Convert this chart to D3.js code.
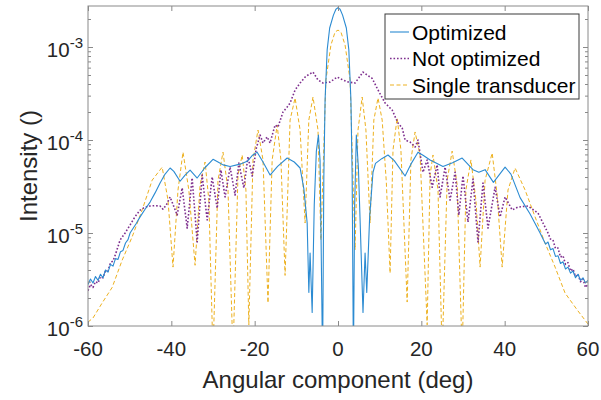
<!DOCTYPE html>
<html lang="en">
  <head>
    <meta charset="utf-8">
    <title>Intensity vs Angular Component</title>
    <script src="https://cdn.jsdelivr.net/npm/d3@7"></script>
    <style>
      body { margin: 0; background: #fff; }
      svg { display: block; font-family: "Liberation Sans", Arial, Helvetica, sans-serif; }
    </style>
  </head>
  <body>
    <script type="text/javascript">
      // values (angle in deg, intensity)
      var optAngle = [-60.0, -59.4, -58.8, -58.2, -57.6, -57.0, -56.4, -55.8, -55.2, -54.6, -54.0, -53.4, -52.8, -52.2, -51.6, -51.0, -50.4,
        -49.9, -48.5, -47.5, -46.3, -45.1, -43.9, -42.7, -41.5, -40.3, -39.4, -37.9, -36.7, -35.5, -33.8, -32.0, -30.0, -28.8, -27.6,
        -25.9, -23.5, -21.8, -20.6, -19.4, -18.0, -16.3, -14.5, -12.2, -10.5, -9.1, -8.2, -7.4, -7.0, -6.7, -6.2, -5.7, -5.2, -4.7,
        -4.3, -4.0, -3.7, -3.4, -3.1, -2.6, -2.0, -1.1, -0.5, 0.0, 0.5, 1.1, 2.0, 2.6, 3.1, 3.4, 3.7, 4.0, 4.4, 4.9, 5.4, 6.0, 6.5,
        6.9, 7.6, 8.4, 9.0, 10.5, 12.0, 13.5, 16.1, 17.5, 19.2, 20.5, 22.1, 25.2, 27.5, 29.8, 32.4, 33.8, 35.3, 37.3, 40.1, 41.5,
        43.7, 46.1, 48.5, 49.8, 50.4, 51.0, 51.6, 52.2, 52.8, 53.4, 54.0, 54.6, 55.2, 55.8, 56.4, 57.0, 57.6, 58.2, 58.8, 59.4, 60.0];
      var optValue = [2.8e-6, 3.2e-6, 2.9e-6, 3.4e-6, 3.1e-6, 3.6e-6, 3.3e-6, 4.0e-6, 3.8e-6, 4.6e-6, 4.4e-6, 5.3e-6, 5.2e-6, 6.3e-6, 6.5e-6, 7.8e-6, 8.5e-6,
        1.0e-5, 1.25e-5, 1.49e-5, 1.8e-5, 2.15e-5, 2.7e-5, 3.45e-5, 4.3e-5, 5.0e-5, 4.6e-5, 3.6e-5, 4.2e-5, 4.75e-5, 3.9e-5, 5.0e-5, 6.2e-5, 5.8e-5, 5.4e-5,
        5.2e-5, 5.5e-5, 5.9e-5, 6.8e-5, 7.4e-5, 5.8e-5, 4.2e-5, 5.2e-5, 6.4e-5, 5.8e-5, 5.0e-5, 3.0e-5, 1.28e-5, 2.3e-6, 6.1e-6, 1.4e-6, 2.0e-5, 7.5e-5, 1.13e-4,
        6.0e-5, 5e-6, 4e-7, 4e-5, 2.7e-4, 9.3e-4, 1.6e-3, 2.2e-3, 2.55e-3, 2.65e-3, 2.55e-3, 2.2e-3, 1.6e-3, 9.3e-4, 2.7e-4, 4e-5, 4e-7, 2e-5, 1.13e-4, 5e-5, 1e-5, 1.4e-6, 6.1e-6,
        2.3e-6, 1.5e-5, 4.5e-5, 5.6e-5, 6.3e-5, 6.9e-5, 6.0e-5, 4.1e-5, 5.5e-5, 7.4e-5, 6.8e-5, 6.1e-5, 5.2e-5, 5.7e-5, 6.4e-5, 4.8e-5, 4.5e-5, 4.8e-5, 3.5e-5, 5.1e-5, 4.3e-5,
        2.4e-5, 1.6e-5, 1.0e-5, 7.6e-6, 8.0e-6, 6.6e-6, 6.8e-6, 5.6e-6, 5.7e-6, 4.7e-6, 4.9e-6, 4.1e-6, 4.3e-6, 3.7e-6, 3.9e-6, 3.3e-6, 3.6e-6, 3.1e-6, 3.3e-6, 2.9e-6, 3.1e-6];

      var notOptAngle = [-60.0, -59.4, -58.8, -58.2, -57.6, -57.0, -56.4, -55.8, -55.2, -54.6, -54.0, -53.4, -52.3, -51.1, -49.9, -48.7, -47.5,
        -46.3, -45.1, -43.9, -42.7, -42.0, -41.2, -40.3, -38.6, -37.4, -36.2, -35.0, -33.8, -32.6, -31.4, -30.2, -29.0, -28.1, -27.1, -25.9,
        -24.7, -23.8, -22.6, -21.6, -20.6, -19.6, -18.7, -18.0, -17.0, -16.3, -15.1, -14.4, -13.2, -12.2, -11.5, -10.3, -9.1, -7.9, -7.2,
        -6.0, -4.8, -3.6, -1.9, -0.2, 1.2, 2.5, 4.1, 6.0, 7.0, 8.2, 9.6, 11.3, 13.0, 14.4, 15.4, 16.1, 17.3, 18.5, 19.2, 20.4, 21.4, 22.6,
        23.8, 24.5, 25.7, 26.9, 28.1, 29.0, 30.0, 31.2, 32.4, 33.6, 34.8, 36.0, 37.7, 38.9, 40.1, 41.8, 43.2, 45.6, 48.0, 50.4, 51.0,
        51.6, 52.2, 52.8, 53.4, 54.0, 54.6, 55.2, 55.8, 56.4, 57.0, 57.6, 58.2, 58.8, 59.4, 60.0];
      var notOptValue = [2.4e-6, 2.8e-6, 2.6e-6, 3.0e-6, 2.9e-6, 3.4e-6, 3.3e-6, 3.9e-6, 3.9e-6, 4.8e-6, 5.0e-6, 5.9e-6, 8.4e-6, 1.0e-5, 1.22e-5, 1.5e-5, 1.76e-5,
        1.9e-5, 1.95e-5, 1.97e-5, 1.95e-5, 1.8e-5, 2.0e-5, 2.44e-5, 1.56e-5, 3.05e-5, 1.13e-5, 3.9e-5, 8.0e-6, 4.2e-5, 1.38e-5, 4.0e-5, 1.85e-5, 4.75e-5, 2.44e-5, 5.1e-5,
        2.56e-5, 5.66e-5, 3.05e-5, 6.6e-5, 4.1e-5, 8.2e-5, 1.13e-4, 9.3e-5, 1.08e-4, 9.3e-5, 1.45e-4, 1.38e-4, 2.0e-4, 2.26e-4, 2.5e-4, 3.45e-4, 4.1e-4, 4.75e-4, 5.0e-4,
        5.38e-4, 4.42e-4, 4.1e-4, 4.2e-4, 4.75e-4, 4.42e-4, 4.2e-4, 4.1e-4, 5.38e-4, 5.0e-4, 4.6e-4, 3.45e-4, 2.5e-4, 2.1e-4, 1.52e-4, 1.35e-4, 1.0e-4, 9.5e-5, 8.4e-5, 1.0e-4, 4.5e-5, 6.1e-5, 3.1e-5,
        5.4e-5, 2.44e-5, 5.1e-5, 2.26e-5, 4.5e-5, 1.56e-5, 4.1e-5, 1.31e-5, 3.8e-5, 8.0e-6, 3.45e-5, 1.13e-5, 3.1e-5, 1.49e-5, 2.44e-5, 1.77e-5, 1.9e-5, 1.95e-5, 1.64e-5, 1.0e-5, 8.6e-6,
        8.4e-6, 6.8e-6, 6.9e-6, 5.5e-6, 5.7e-6, 4.6e-6, 4.8e-6, 3.9e-6, 4.1e-6, 3.4e-6, 3.6e-6, 3.0e-6, 3.2e-6, 2.6e-6, 2.8e-6];

      var singleAngle = [-60.0, -58.8, -56.6, -54.2, -51.8, -49.4, -47.0, -44.6, -42.2, -40.8, -39.6, -38.4, -37.2, -35.8, -34.3, -33.1, -31.9,
        -31.0, -30.0, -28.8, -27.6, -26.4, -25.2, -24.0, -23.0, -22.1, -21.4, -20.4, -19.2, -18.0, -16.8, -15.8, -14.6, -13.7, -12.7, -11.5,
        -10.3, -9.1, -7.9, -7.0, -6.0, -4.8, -4.1, -2.9, -1.7, -0.7, 0.0, 0.7, 1.7, 2.9, 4.1, 4.8, 5.8, 6.7, 7.7, 8.6, 9.6, 10.6, 11.6,
        12.5, 13.2, 14.2, 15.1, 16.6, 17.5, 18.5, 19.7, 21.4, 22.1, 22.8, 24.0, 25.0, 26.2, 27.4, 28.6, 29.8, 30.7, 31.9, 33.1, 34.1,
        35.3, 37.0, 38.2, 39.4, 40.8, 42.5, 44.9, 47.3, 49.7, 52.1, 54.5, 57.4, 60.0];
      var singleValue = [1.1e-6, 1.22e-6, 1.77e-6, 2.6e-6, 5.1e-6, 9.1e-6, 1.77e-5, 3.7e-5, 5.1e-5, 2.26e-5, 4.3e-6, 2.9e-5, 7.4e-5, 2.9e-5, 4.5e-6, 3.3e-5, 5.8e-5,
        2.26e-5, 5e-7, 3.7e-5, 7.4e-5, 2.9e-5, 5e-7, 4.2e-5, 6.9e-5, 2.9e-5, 1.03e-6, 6.1e-5, 1.28e-4, 6.1e-5, 1.77e-6, 6.1e-5, 1.45e-4, 6.1e-5, 3.5e-6, 1.64e-4,
        2.83e-4, 1.28e-4, 1.28e-5, 1.64e-4, 2.9e-4, 1.28e-4, 8.4e-6, 4.42e-4, 1.05e-3, 1.45e-3, 1.52e-3, 1.45e-3, 1.05e-3, 4.42e-4, 6.6e-6, 1.28e-4, 2.9e-4, 1.28e-4, 1.28e-5, 1.64e-4, 2.83e-4, 1.64e-4, 3.5e-5,
        3.7e-6, 7.8e-5, 1.73e-4, 7.8e-5, 1.81e-6, 6.1e-5, 1.22e-4, 6.9e-5, 1.03e-6, 4.2e-5, 6.9e-5, 2.9e-5, 5e-7, 3.7e-5, 7.6e-5, 3.3e-5, 5e-7, 2.9e-5, 6.1e-5, 2.26e-5, 4.3e-6,
        3.7e-5, 7.25e-5, 2.56e-5, 4.3e-6, 2.9e-5, 5.0e-5, 2.9e-5, 1.49e-5, 7.8e-6, 4.3e-6, 2.26e-6, 1.49e-6, 1.05e-6];

      var seriesNames = ["Optimized", "Not optimized", "Single transducer"];
      var xTicks = [-60, -40, -20, 0, 20, 40, 60];
      var yTicks = [1e-6, 1e-5, 1e-4, 1e-3];
      var yTickExp = ["-6", "-5", "-4", "-3"];

      var w = 601;
      var h = 400;
      // plot box in pixels (note: "top" is reserved on window, so use pTop etc.)
      var pLeft = 88, pRight = 588, pTop = 6, pBottom = 326;
      var textColor = "#262626";
      var axisColor = "#8a8a8a";

      var svg = d3.select("body")
        .append("svg")
        .attr("width", w)
        .attr("height", h);

      var xScale = d3.scaleLinear()
        .domain([-60, 60])
        .range([pLeft, pRight]);
      var yScale = d3.scaleLog()
        .domain([1e-6, 2.76e-3])
        .range([pBottom, pTop]);

      // clip so the nulls that drop below 1e-6 are cut at the axes
      svg.append("clipPath")
        .attr("id", "plotclip")
        .append("rect")
        .attr("x", pLeft)
        .attr("y", pTop)
        .attr("width", pRight - pLeft)
        .attr("height", pBottom - pTop);

      var series = [
        { angle: optAngle, value: optValue, color: "#2b8bd2", width: 1.1, dash: null },
        { angle: notOptAngle, value: notOptValue, color: "#7E2F8E", width: 1.6, dash: "1.6,1.9" },
        { angle: singleAngle, value: singleValue, color: "#EDB120", width: 1, dash: "4,2.5" }
      ];

      var line = d3.line()
        .x(function(d) { return xScale(d[0]); })
        .y(function(d) { return yScale(d[1]); });

      var plot = svg.append("g").attr("clip-path", "url(#plotclip)");
      // draw back to front: single, not optimized, optimized
      [2, 1, 0].forEach(function(i) {
        var s = series[i];
        var pts = d3.zip(s.angle, s.value);
        plot.append("path")
          .attr("d", line(pts))
          .attr("fill", "none")
          .attr("stroke", s.color)
          .attr("stroke-width", s.width)
          .attr("stroke-dasharray", s.dash)
          .attr("stroke-linejoin", "round");
      });

      // axes box
      svg.append("rect")
        .attr("x", pLeft)
        .attr("y", pTop)
        .attr("width", pRight - pLeft)
        .attr("height", pBottom - pTop)
        .attr("fill", "none")
        .attr("stroke", axisColor)
        .attr("stroke-width", 1);

      var minorTicks = yScale.ticks().filter(function(d) {
        return yTicks.indexOf(d) < 0;
      });

      var xAxis = d3.axisBottom(xScale).tickValues(xTicks).tickSize(-5).tickSizeOuter(0).tickFormat("");
      var xAxisTop = d3.axisTop(xScale).tickValues(xTicks).tickSize(-5).tickSizeOuter(0).tickFormat("");
      var yAxis = d3.axisLeft(yScale).tickValues(yTicks).tickSize(-5).tickSizeOuter(0).tickFormat("");
      var yAxisR = d3.axisRight(yScale).tickValues(yTicks).tickSize(-5).tickSizeOuter(0).tickFormat("");
      var yMinor = d3.axisLeft(yScale).tickValues(minorTicks).tickSize(-3).tickSizeOuter(0).tickFormat("");
      var yMinorR = d3.axisRight(yScale).tickValues(minorTicks).tickSize(-3).tickSizeOuter(0).tickFormat("");

      var axes = [
        [xAxis, "translate(0," + pBottom + ")"],
        [xAxisTop, "translate(0," + pTop + ")"],
        [yAxis, "translate(" + pLeft + ",0)"],
        [yAxisR, "translate(" + pRight + ",0)"],
        [yMinor, "translate(" + pLeft + ",0)"],
        [yMinorR, "translate(" + pRight + ",0)"]
      ];
      axes.forEach(function(a) {
        var g = svg.append("g")
          .attr("class", "axis")
          .attr("transform", a[1])
          .call(a[0]);
        g.select(".domain").remove();
        g.selectAll(".tick line").attr("stroke", axisColor);
      });

      // x tick labels
      svg.append("g").selectAll("text")
        .data(xTicks)
        .enter()
        .append("text")
        .attr("x", function(d) { return xScale(d); })
        .attr("y", pBottom + 30)
        .attr("text-anchor", "middle")
        .attr("fill", textColor)
        .style("font-size", "20.5px")
        .text(function(d) { return d; });

      // y tick labels as 10 with a superscript exponent
      var yLab = svg.append("g").selectAll("text")
        .data(yTicks)
        .enter()
        .append("text")
        .attr("x", pLeft - 5)
        .attr("y", function(d) { return yScale(d) + 10; })
        .attr("text-anchor", "end")
        .attr("fill", textColor)
        .style("font-size", "20.5px");
      yLab.append("tspan").text("10");
      yLab.append("tspan")
        .attr("dy", -9)
        .style("font-size", "15px")
        .text(function(d, i) { return yTickExp[i]; });

      // axis labels
      svg.append("text")
        .attr("x", (pLeft + pRight) / 2)
        .attr("y", 388)
        .attr("text-anchor", "middle")
        .attr("fill", textColor)
        .style("font-size", "24px")
        .text("Angular component (deg)");
      svg.append("text")
        .attr("transform", "translate(37," + ((pTop + pBottom) / 2) + ") rotate(-90)")
        .attr("text-anchor", "middle")
        .attr("fill", textColor)
        .style("font-size", "24px")
        .text("Intensity ()");

      // legend
      var legend = svg.append("g").attr("transform", "translate(385,14)");
      legend.append("rect")
        .attr("width", 194)
        .attr("height", 85)
        .attr("fill", "#fff")
        .attr("stroke", "#3a3a3a")
        .attr("stroke-width", 1);
      seriesNames.forEach(function(name, i) {
        var s = series[i];
        var cy = 18 + i * 26.5;
        legend.append("line")
          .attr("x1", 5)
          .attr("x2", 24)
          .attr("y1", cy)
          .attr("y2", cy)
          .attr("stroke", s.color)
          .attr("stroke-width", s.width)
          .attr("stroke-dasharray", s.dash);
        legend.append("text")
          .attr("x", 27)
          .attr("y", cy + 7.5)
          .attr("fill", "#000")
          .style("font-size", "21px")
          .text(name);
      });
    </script>
  </body>
</html>
